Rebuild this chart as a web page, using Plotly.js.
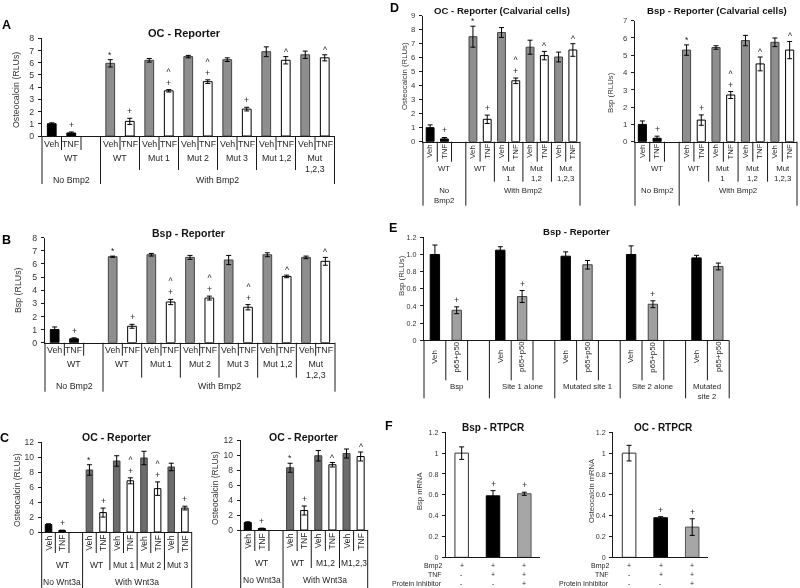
<!DOCTYPE html>
<html><head><meta charset="utf-8">
<script src="https://cdn.plot.ly/plotly-3.0.1.min.js"></script>
<style>html,body{margin:0;padding:0;background:#fff}#chart{width:800px;height:588px;filter:grayscale(100%)}
#chart text{opacity:0.99}</style>
</head><body><div id="chart"></div><script>
// ---------------- DATA ----------------
// Panel A: OC - Reporter
const A_row1 = ['Veh','TNF','','Veh','TNF','Veh','TNF','Veh','TNF','Veh','TNF','Veh','TNF','Veh','TNF'];
const A_val  = [1.0,0.25,null,5.95,1.2,6.2,3.7,6.5,4.45,6.25,2.2,6.9,6.2,6.65,6.4];
const A_err  = [0.08,0.08,0,0.3,0.25,0.15,0.1,0.1,0.15,0.15,0.15,0.4,0.3,0.3,0.25];
const A_sig  = ['','+','','*','+','','+^','','+^','','+','','^','','^'];
const A_groups = ['WT','WT','Mut 1','Mut 2','Mut 3','Mut 1,2','Mut<br>1,2,3'];
const A_gsize  = [3,2,2,2,2,2,2];
const A_top    = ['No Bmp2','With Bmp2'];
const A_tsize  = [3,12];
const A_ticks  = [0,1,2,3,4,5,6,7,8];

// Panel B: Bsp - Reporter
const B_row1 = ['Veh','TNF','','Veh','TNF','Veh','TNF','Veh','TNF','Veh','TNF','Veh','TNF','Veh','TNF'];
const B_val  = [1.0,0.3,null,6.55,1.25,6.7,3.1,6.5,3.4,6.3,2.7,6.7,5.05,6.5,6.2];
const B_err  = [0.2,0.07,0,0.05,0.15,0.1,0.2,0.15,0.15,0.35,0.2,0.15,0.1,0.1,0.3];
const B_sig  = ['','+','','*','+','','+^','','+^','','+^','','^','','^'];
const B_groups = ['WT','WT','Mut 1','Mut 2','Mut 3','Mut 1,2','Mut<br>1,2,3'];
const B_gsize  = [3,2,2,2,2,2,2];
const B_top    = ['No Bmp2','With Bmp2'];
const B_tsize  = [3,12];
const B_ticks  = [0,1,2,3,4,5,6,7,8];

// Panel C (left): OC - Reporter, Wnt3a
const C1_row1 = ['Veh','TNF','','Veh','TNF','Veh','TNF','Veh','TNF','Veh','TNF'];
const C1_val  = [1.0,0.2,null,8.3,2.6,9.5,6.85,9.9,5.8,8.7,3.2];
const C1_err  = [0.1,0.05,0,0.7,0.6,0.7,0.4,0.9,0.9,0.5,0.25];
const C1_sig  = ['','+','','*','+','','+^','','+^','','+'];
const C1_groups = ['WT','WT','Mut 1','Mut 2','Mut 3'];
const C1_gsize  = [3,2,2,2,2];
const C1_top    = ['No Wnt3a','With Wnt3a'];
const C1_tsize  = [3,8];
const C_ticks   = [0,2,4,6,8,10,12];

// Panel C (right)
const C2_row1 = ['Veh','TNF','','Veh','TNF','Veh','TNF','Veh','TNF'];
const C2_val  = [1.0,0.2,null,8.3,2.6,9.9,8.7,10.2,9.8];
const C2_err  = [0.1,0.05,0,0.6,0.6,0.7,0.3,0.6,0.6];
const C2_sig  = ['','+','','*','+','','^','','^'];
const C2_groups = ['WT','WT','M1,2','M1,2,3'];
const C2_gsize  = [3,2,2,2];
const C2_top    = ['No Wnt3a','With Wnt3a'];
const C2_tsize  = [3,6];

// Panel D (left): OC - Reporter (Calvarial cells)
const D1_row1 = ['Veh','TNF','','Veh','TNF','Veh','TNF','Veh','TNF','Veh','TNF'];
const D1_val  = [1.0,0.2,null,7.5,1.6,7.8,4.35,6.75,6.15,6.05,6.55];
const D1_err  = [0.2,0.1,0,0.75,0.3,0.35,0.2,0.5,0.3,0.35,0.45];
const D1_sig  = ['','+','','*','+','','+^','','^','','^'];
const D1_groups = ['WT','WT','Mut<br>1','Mut<br>1,2','Mut<br>1,2,3'];
const D1_gsize  = [3,2,2,2,2];
const D1_top    = ['No<br>Bmp2','With Bmp2'];
const D1_tsize  = [3,8];
const D1_ticks  = [0,1,2,3,4,5,6,7,8,9];

// Panel D (right): Bsp - Reporter (Calvarial cells)
const D2_row1 = ['Veh','TNF','','Veh','TNF','Veh','TNF','Veh','TNF','Veh','TNF'];
const D2_val  = [1.0,0.2,null,5.3,1.25,5.45,2.7,5.85,4.5,5.75,5.3];
const D2_err  = [0.2,0.12,0,0.3,0.3,0.1,0.2,0.3,0.4,0.25,0.5];
const D2_sig  = ['','+','','*','+','','+^','','^','','^'];
const D2_groups = ['WT','WT','Mut<br>1','Mut<br>1,2','Mut<br>1,2,3'];
const D2_gsize  = [3,2,2,2,2];
const D2_top    = ['No Bmp2','With Bmp2'];
const D2_tsize  = [3,8];
const D2_ticks  = [0,1,2,3,4,5,6,7];

// Panel E: Bsp - Reporter (p65+p50)
const E_row1 = ['Veh','p65+p50','','Veh','p65+p50','','Veh','p65+p50','','Veh','p65+p50','','Veh','p65+p50'];
const E_val  = [1.0,0.35,null,1.05,0.51,null,0.98,0.88,null,1.0,0.42,null,0.96,0.86];
const E_err  = [0.11,0.04,0,0.04,0.07,0,0.05,0.05,0,0.1,0.04,0,0.03,0.04];
const E_sig  = ['','+','','','+','','','','','','+','','',''];
const E_groups = ['Bsp','Site 1 alone','Mutated site 1','Site 2 alone','Mutated<br>site 2'];
const E_gsize  = [3,3,3,3,2];
const E_ticks  = [0,0.2,0.4,0.6,0.8,1.0,1.2];
const E_tickText = ['0','0.2','0.4','0.6','0.8','1.0','1.2'];

// Panel F: RTPCR
const F_rows = ['Bmp2','TNF','Protein Inhibitor'];
const F_bmp2 = ['+','+','+'];
const F_tnf  = ['-','+','+'];
const F_inh  = ['-','-','+'];
const F1_val = [1.0,0.59,0.61];
const F1_err = [0.06,0.05,0.015];
const F1_sig = ['','+','+'];
const F2_val = [1.0,0.38,0.29];
const F2_err = [0.075,0.01,0.08];
const F2_sig = ['','+','+'];
const F_ticks = [0,0.2,0.4,0.6,0.8,1,1.2];
const F_tickText = ['0','0.2','0.4','0.6','0.8','1','1.2'];

// ---------------- LAYOUT HELPERS ----------------
const W = 800, H = 588;
const px = x => x / W, py = y => 1 - y / H;
const FONT = '"Liberation Sans", Arial, Helvetica, sans-serif';
const LINE = '#1a1a1a';
const traces = [], shapes = [], annotations = [];
const layout = {
  width: W, height: H, margin: {l:0, r:0, t:0, b:0},
  paper_bgcolor: '#fff', plot_bgcolor: 'rgba(0,0,0,0)',
  showlegend: false, font: {family: FONT, color: '#222'},
  bargap: 0
};

const panels = [
  {row1:A_row1, val:A_val, err:A_err, sig:A_sig, groups:A_groups, gsize:A_gsize, top:A_top, tsize:A_tsize,
   kind:'bmp', ticks:A_ticks, x0:42, x1:334.5, yt:38.3, yb:136, bw:0.45, fs:8.8, tkfs:8.8, gray:'#8e8e8e',
   title:'OC - Reporter', tx:184, ty:33, tfs:11, ytitle:'Osteocalcin (RLUs)', ytx:16, yty:90,
   r1:{c:8.5, b:14, rot:false}, r2:{t:16, b:34}, r3:{t:38, b:48}},
  {row1:B_row1, val:B_val, err:B_err, sig:B_sig, groups:B_groups, gsize:B_gsize, top:B_top, tsize:B_tsize,
   kind:'bmp', ticks:B_ticks, x0:45, x1:335, yt:237.7, yb:342.7, bw:0.45, fs:8.8, tkfs:8.8, gray:'#8e8e8e',
   title:'Bsp - Reporter', tx:188, ty:232.7, tfs:10.5, ytitle:'Bsp (RLUs)', ytx:18, yty:290,
   r1:{c:7.5, b:13, rot:false}, r2:{t:15, b:35}, r3:{t:37, b:49}},
  {row1:C1_row1, val:C1_val, err:C1_err, sig:C1_sig, groups:C1_groups, gsize:C1_gsize, top:C1_top, tsize:C1_tsize,
   kind:'bmp', ticks:C_ticks, x0:41.7, x1:191.7, yt:442.3, yb:532, bw:0.48, fs:8.5, tkfs:8.5, gray:'#6c6c6c',
   title:'OC - Reporter', tx:116.7, ty:436.7, tfs:10.5, ytitle:'Osteocalcin (RLUs)', ytx:17, yty:490,
   r1:{c:11, b:21, rot:true}, r2:{t:27, b:38}, r3:{t:44, b:57}},
  {row1:C2_row1, val:C2_val, err:C2_err, sig:C2_sig, groups:C2_groups, gsize:C2_gsize, top:C2_top, tsize:C2_tsize,
   kind:'bmp', ticks:C_ticks, x0:240.7, x1:367.7, yt:440, yb:530, bw:0.5, fs:8.5, tkfs:8.5, gray:'#6c6c6c',
   title:'OC - Reporter', tx:303.3, ty:436.7, tfs:10.5, ytitle:'Osteocalcin (RLUs)', ytx:215, yty:488,
   r1:{c:11, b:21, rot:true}, r2:{t:27, b:38}, r3:{t:44, b:59}},
  {row1:D1_row1, val:D1_val, err:D1_err, sig:D1_sig, groups:D1_groups, gsize:D1_gsize, top:D1_top, tsize:D1_tsize,
   kind:'bmp', ticks:D1_ticks, x0:423, x1:580, yt:15.7, yb:141.7, bw:0.55, fs:7.8, tkfs:7.8, gray:'#8e8e8e',
   title:'OC - Reporter (Calvarial cells)', tx:502.3, ty:10.7, tfs:9.6, ytitle:'Osteocalcin (RLUs)', ytx:404, yty:76,
   r1:{c:10, b:20, rot:true}, r2:{t:21.5, b:40}, r3:{t:43.5, b:64}},
  {row1:D2_row1, val:D2_val, err:D2_err, sig:D2_sig, groups:D2_groups, gsize:D2_gsize, top:D2_top, tsize:D2_tsize,
   kind:'bmp', ticks:D2_ticks, x0:635, x1:797, yt:20.7, yb:141.7, bw:0.55, fs:7.8, tkfs:7.8, gray:'#8e8e8e',
   title:'Bsp - Reporter (Calvarial cells)', tx:716.7, ty:10.7, tfs:9.6, ytitle:'Bsp (RLUs)', ytx:610, yty:93,
   r1:{c:10, b:20, rot:true}, r2:{t:21.5, b:40}, r3:{t:43.5, b:64}},
  {row1:E_row1, val:E_val, err:E_err, sig:E_sig, groups:E_groups, gsize:E_gsize, top:null, tsize:null,
   kind:'nfkb', ticks:E_ticks, tickText:E_tickText, x0:424, x1:729.2, yt:237.3, yb:340.3, bw:0.43, fs:7.8, tkfs:7.2, gray:'#a0a0a0',
   title:'Bsp - Reporter', tx:576.7, ty:231.7, tfs:9.6, ytitle:'Bsp (RLUs)', ytx:401, yty:276,
   r1:{c:16.5, b:40, rot:true}, r2:{t:40.5, b:58}, r3:null},
  {row1:null, val:F1_val, err:F1_err, sig:F1_sig, kind:'rt', ticks:F_ticks, tickText:F_tickText,
   x0:446, x1:540, yt:432.3, yb:557.3, bw:0.43, fs:7.0, tkfs:7.2, gray:'#a6a6a6',
   title:'Bsp - RTPCR', tx:493.3, ty:427.7, tfs:10, ytitle:'Bsp mRNA', ytx:419, yty:491},
  {row1:null, val:F2_val, err:F2_err, sig:F2_sig, kind:'rt', ticks:F_ticks, tickText:F_tickText,
   x0:613.3, x1:708, yt:432.3, yb:557.3, bw:0.43, fs:7.0, tkfs:7.2, gray:'#a6a6a6',
   title:'OC - RTPCR', tx:663.3, ty:427.7, tfs:10, ytitle:'Osteocalcin mRNA', ytx:591, yty:491}
];

function barStyle(p) {
  const fills = [], lines = [];
  p.val.forEach((v, i) => {
    let f, l;
    if (p.kind === 'bmp') {
      if (i < p.tsize[0]) { f = '#000'; l = '#000'; }
      else if (p.row1[i] === 'Veh') { f = p.gray; l = '#444'; }
      else { f = '#fff'; l = '#000'; }
    } else if (p.kind === 'nfkb') {
      if (p.row1[i] === 'Veh') { f = '#000'; l = '#000'; } else { f = p.gray; l = '#444'; }
    } else {
      f = ['#fff', '#000', p.gray][i]; l = ['#333', '#000', '#555'][i];
    }
    fills.push(f); lines.push(l);
  });
  return {fills, lines};
}

function txt(o) { return Object.assign({showarrow: false, borderpad: 0, xanchor: 'center', yanchor: 'middle'}, o); }

panels.forEach((p, k) => {
  const sfx = k === 0 ? '' : String(k + 1);
  const xa = 'x' + sfx, ya = 'y' + sfx;
  const n = p.val.length;
  const xs = p.val.map((_, i) => i);
  const st = barStyle(p);
  const ymax = p.ticks[p.ticks.length - 1];

  traces.push({
    type: 'bar', x: xs, y: p.val, xaxis: xa, yaxis: ya, width: p.bw,
    marker: {color: st.fills, line: {color: st.lines, width: 1}},
    error_y: {type: 'data', array: p.err, visible: true, color: '#000', thickness: 1, width: 2.5},
    hoverinfo: 'skip', showlegend: false
  });

  layout['xaxis' + sfx] = {
    domain: [px(p.x0), px(p.x1)], range: [-0.5, n - 0.5], anchor: ya,
    showline: true, linecolor: LINE, linewidth: 1, showticklabels: false, ticks: '',
    showgrid: false, zeroline: false, fixedrange: true
  };
  layout['yaxis' + sfx] = {
    domain: [py(p.yb), py(p.yt)], range: [0, ymax], anchor: xa,
    showline: true, linecolor: LINE, linewidth: 1, ticks: 'outside', ticklen: 3, tickcolor: LINE,
    ticklabelstandoff: 2,
    tickvals: p.ticks, ticktext: p.tickText || p.ticks.map(String),
    tickfont: {size: p.tkfs, color: '#333', family: FONT},
    showgrid: false, zeroline: false, fixedrange: true
  };

  // titles
  annotations.push(txt({xref: 'paper', yref: 'paper', x: px(p.tx), y: py(p.ty), text: '<b>' + p.title + '</b>',
    font: {size: p.tfs, color: '#111', family: FONT}}));
  annotations.push(txt({xref: 'paper', yref: 'paper', x: px(p.ytx), y: py(p.yty), text: p.ytitle, textangle: -90,
    font: {size: p.kind === 'rt' ? 7.6 : p.fs, color: '#333', family: FONT}}));

  // significance markers (listed bottom to top, drawn as one stacked text)
  p.sig.forEach((s, i) => {
    if (!s) return;
    const chars = s.split('');
    const shift = chars[0] === '+' ? 1 : -1;
    annotations.push(txt({xref: xa, yref: ya, x: i, y: p.val[i] + p.err[i], text: chars.slice().reverse().join('<br>'),
      yanchor: 'bottom', yshift: shift, font: {size: 8.6, color: '#222', family: FONT}}));
  });

  if (p.kind === 'rt') {
    const rows = [F_bmp2, F_tnf, F_inh];
    const offs = [8.2, 17.2, 26.2];
    rows.forEach((r, ri) => {
      annotations.push(txt({xref: 'paper', yref: 'paper', x: px(p.x0 - 3), y: py(p.yb + offs[ri]), text: F_rows[ri],
        xanchor: 'right', font: {size: p.fs, color: '#222', family: FONT}}));
      r.forEach((sgn, i) => {
        annotations.push(txt({xref: xa, yref: 'paper', x: i, y: py(p.yb + offs[ri]), text: sgn,
          font: {size: p.fs, color: '#222', family: FONT}}));
      });
    });
    return;
  }

  // category table: row 1 labels
  p.row1.forEach((lab, i) => {
    if (!lab) return;
    annotations.push(txt({xref: xa, yref: 'paper', x: i, y: py(p.yb + p.r1.c), text: lab,
      textangle: p.r1.rot ? -90 : 0, font: {size: p.fs, color: '#222', family: FONT}}));
  });
  // row 2 groups
  const gB = new Set(), tB = new Set();
  let s = 0;
  p.groups.forEach((g, gi) => {
    const e = s + p.gsize[gi];
    annotations.push(txt({xref: xa, yref: 'paper', x: (s + e - 1) / 2, y: py(p.yb + p.r2.t), text: g,
      yanchor: 'top', font: {size: p.fs, color: '#222', family: FONT}}));
    gB.add(s); gB.add(e); s = e;
  });
  // row 3 top groups
  if (p.top) {
    s = 0;
    p.top.forEach((g, gi) => {
      const e = s + p.tsize[gi];
      annotations.push(txt({xref: xa, yref: 'paper', x: (s + e - 1) / 2, y: py(p.yb + p.r3.t), text: g,
        yanchor: 'top', font: {size: p.fs, color: '#222', family: FONT}}));
      tB.add(s); tB.add(e); s = e;
    });
  }
  // divider lines
  for (let b = 0; b <= n; b++) {
    let depth;
    if (tB.has(b)) depth = p.r3.b;
    else if (gB.has(b)) depth = p.r2.b;
    else depth = p.r1.b;
    shapes.push({type: 'line', xref: xa + ' domain', yref: 'paper', x0: b / n, x1: b / n,
      y0: py(p.yb), y1: py(p.yb + depth), line: {color: LINE, width: 1}});
  }
});

// panel letters
const letters = [['A', 6, 25], ['B', 6, 240], ['C', 4, 438], ['D', 394, 8], ['E', 393, 228], ['F', 389, 426]];
letters.forEach(([t, x, y]) => annotations.push(txt({xref: 'paper', yref: 'paper', x: px(x), y: py(y), text: '<b>' + t + '</b>',
  font: {size: 12.5, color: '#000', family: FONT}})));

layout.shapes = shapes;
layout.annotations = annotations;
Plotly.newPlot('chart', traces, layout, {staticPlot: true, displayModeBar: false});
</script></body></html>
